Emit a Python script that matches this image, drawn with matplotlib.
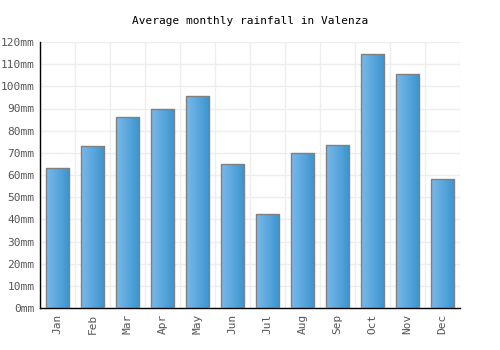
import numpy as np
import matplotlib
matplotlib.use("Agg")
import matplotlib.pyplot as plt
from matplotlib.colors import LinearSegmentedColormap

months = ["Jan", "Feb", "Mar", "Apr", "May", "Jun",
          "Jul", "Aug", "Sep", "Oct", "Nov", "Dec"]
rainfall = [63, 73, 86, 90, 95.5, 65, 42.5, 70, 73.5, 114.5, 105.5, 58]
yticks = list(range(0, 121, 10))
ylabels = ["%dmm" % v for v in yticks]

plt.rcParams["font.family"] = ["DejaVu Sans Mono"]

fig = plt.figure(figsize=(5, 3.5), dpi=100)
ax = fig.add_axes([0.08, 0.12, 0.84, 0.76])

x = np.arange(len(months))
bars = ax.bar(x, rainfall, width=0.67, facecolor="none",
              edgecolor="#808080", linewidth=1, zorder=3)

# horizontal gradient inside each bar
cmap = LinearSegmentedColormap.from_list("g", ["#7ab9ea", "#3a94cf"])
grad = np.linspace(0, 1, 64).reshape(1, -1)
for b in bars:
    x0, y0 = b.get_x(), b.get_y()
    w, h = b.get_width(), b.get_height()
    im = ax.imshow(grad, cmap=cmap, aspect="auto",
                   extent=[x0, x0 + w, y0, y0 + h], zorder=2)
    im.set_clip_path(b)

ax.set_xlim(-0.5, len(months) - 0.5)
ax.set_ylim(0, 120)
ax.set_yticks(yticks)
ax.set_yticklabels(ylabels)
ax.set_xticks(x)
ax.set_xticklabels(months, rotation=90)
ax.set_xticks(np.arange(-0.5, len(months), 1), minor=True)

ax.grid(False)
ax.yaxis.grid(True, color="#eeeeee", linewidth=1, zorder=0)
ax.xaxis.grid(True, which="minor", color="#eeeeee", linewidth=1, zorder=0)
ax.set_axisbelow(True)

for s in ["top", "right"]:
    ax.spines[s].set_visible(False)
for s in ["left", "bottom"]:
    ax.spines[s].set_color("black")
    ax.spines[s].set_linewidth(1)

ax.tick_params(axis="both", which="both", length=0, labelsize=8,
               labelcolor="#555555", pad=4)

fig.text(0.5, 0.94, "Average monthly rainfall in Valenza",
         ha="center", va="center", fontsize=8, color="black")

fig.savefig("out.png", dpi=100)
